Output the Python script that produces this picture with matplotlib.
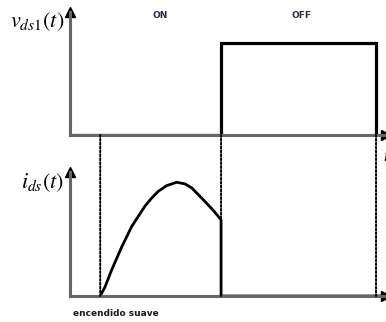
import matplotlib
matplotlib.use("Agg")
import matplotlib.pyplot as plt
from matplotlib.patches import ConnectionPatch

# switching instants (same time scale for both traces)
t_soft_on = 1.0
t_switch = 5.0
t_end = 10.13
t_max = 10.46

# v_ds1: low while ON, high while OFF
v_times = [0.0, t_switch, t_switch, t_end, t_end]
v_level = [0.0, 0.0, 1.0, 1.0, 0.0]

# i_ds: resonant current pulse during the ON interval (normalised to peak)
i_times = [1.0, 1.16, 1.38, 1.545, 1.71, 1.876, 2.04, 2.26, 2.48, 2.70,
           2.92, 3.20, 3.53, 3.81, 4.03, 4.25, 4.47, 4.75, 5.0, 5.0, 10.3]
i_level = [0.0, 0.08, 0.23, 0.33, 0.43, 0.52, 0.61, 0.70, 0.79, 0.86,
           0.92, 0.97, 1.0, 0.985, 0.95, 0.89, 0.83, 0.75, 0.67, 0.0, 0.0]

W, H = 386, 322
fig = plt.figure(figsize=(W / 100, H / 100), dpi=100)

def px_axes(x0, y_top, y_bot):
    return fig.add_axes([x0 / W, 1 - y_bot / H, 1 - x0 / W, (y_bot - y_top) / H])

ax_v = px_axes(70, 12, 135)
ax_i = px_axes(70, 172, 296)

for ax, top in ((ax_v, 1.337), (ax_i, 1.09)):
    ax.set_xlim(0, t_max)
    ax.set_ylim(0, top)
    ax.set_xticks([])
    ax.set_yticks([])
    for s in ("top", "right"):
        ax.spines[s].set_visible(False)
    for s in ("left", "bottom"):
        ax.spines[s].set_color("#666666")
        ax.spines[s].set_linewidth(2.2)
    ax.patch.set_alpha(0)
    ax.plot(0, 1, marker="^", color="black", markersize=7,
            transform=ax.transAxes, clip_on=False)
    ax.plot(1, 0, marker=">", color="black", markersize=7,
            transform=ax.transAxes, clip_on=False)

ax_v.plot(v_times, v_level, color="black", lw=2.3, solid_joinstyle="miter")
ax_i.plot(i_times, i_level, color="black", lw=2.0, solid_joinstyle="round")

# dotted markers linking the two traces
for t in (t_soft_on, t_switch, t_end):
    con = ConnectionPatch(xyA=(t, 0), coordsA=ax_v.transData,
                          xyB=(t, 0), coordsB=ax_i.transData,
                          linestyle=(0, (1, 1)), color="black", lw=1.4)
    fig.add_artist(con)

plt.rcParams["mathtext.fontset"] = "stix"
fig.text(64 / W, 1 - 22 / H, r"$v_{ds1}(t)$", ha="right", va="center",
         fontsize=16)
fig.text(64 / W, 1 - 183 / H, r"$i_{ds}(t)$", ha="right", va="center",
         fontsize=16)
fig.text(383 / W, 1 - 156 / H, r"$t$", ha="left", va="center", fontsize=12)

fig.text(160 / W, 1 - 16 / H, "ON", ha="center", va="center",
         fontsize=6.5, fontweight="bold", color="#1f3050")
fig.text(301 / W, 1 - 16 / H, "OFF", ha="center", va="center",
         fontsize=6.5, fontweight="bold", color="#2a3345")
fig.text(116 / W, 1 - 313 / H, "encendido suave", ha="center", va="center",
         fontsize=6.5, fontweight="bold", color="#1a1a1a")

fig.savefig("out.png", dpi=100)
